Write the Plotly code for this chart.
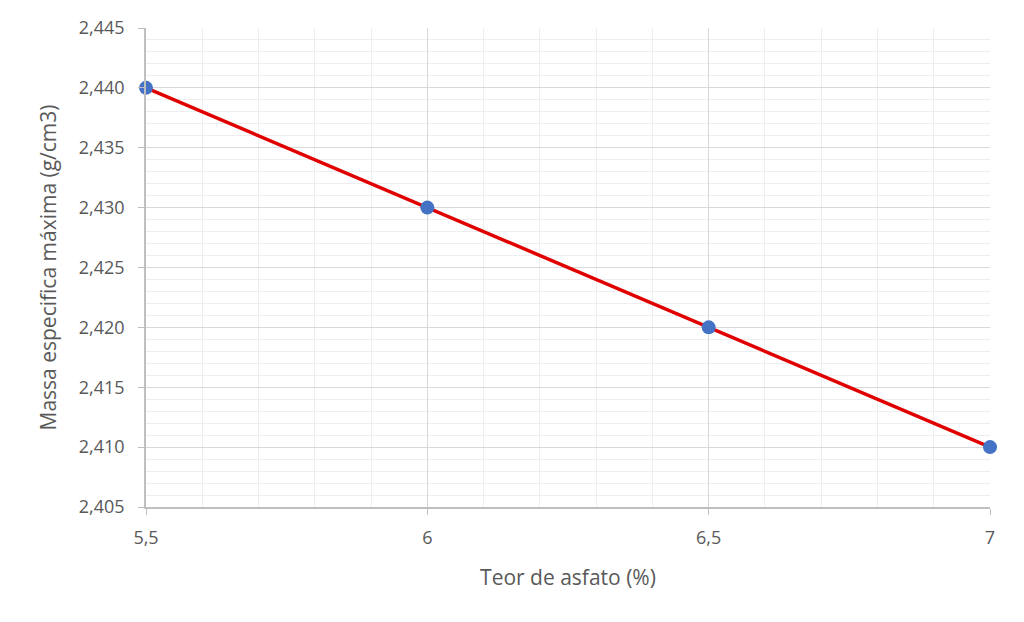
import plotly.graph_objects as go

teor = [5.5, 6.0, 6.5, 7.0]
massa = [2.440, 2.430, 2.420, 2.410]

fig = go.Figure()
fig.add_trace(go.Scatter(
    x=teor, y=massa, mode="lines+markers",
    line=dict(color="#E00000", width=3.5),
    marker=dict(color="#4472C4", size=14),
    cliponaxis=False,
    showlegend=False,
))

fig.update_layout(
    width=1024, height=622,
    paper_bgcolor="white", plot_bgcolor="white",
    margin=dict(l=138, r=42, t=20, b=123),
    separators=",.",
    font=dict(family="Open Sans", color="#595959", size=18),
)
fig.update_xaxes(
    range=[5.5, 7], dtick=0.5, tick0=5.5,
    showline=True, linecolor="#bfbfbf", linewidth=1.5,
    gridcolor="#d9d9d9", gridwidth=1,
    ticks="outside", ticklen=6, tickcolor="#bfbfbf",
    ticklabelstandoff=8, automargin=False,
    minor=dict(dtick=0.1, showgrid=True, gridcolor="#eeeeee", gridwidth=1),
    title=dict(text="Teor de asfato (%)", font=dict(size=21), standoff=22),
    zeroline=False, tickfont=dict(size=18),
)
fig.update_yaxes(
    range=[2.405, 2.445], dtick=0.005, tick0=2.405, tickformat=".3f",
    showline=True, linecolor="#bfbfbf", linewidth=1.5,
    gridcolor="#d9d9d9", gridwidth=1,
    ticks="outside", ticklen=6, tickcolor="#bfbfbf",
    ticklabelstandoff=10, automargin=False,
    minor=dict(dtick=0.001, showgrid=True, gridcolor="#eeeeee", gridwidth=1),
    title=dict(text="Massa especifica máxima (g/cm3)", font=dict(size=21), standoff=16),
    zeroline=False, tickfont=dict(size=18),
)

fig.write_html("out.html")
